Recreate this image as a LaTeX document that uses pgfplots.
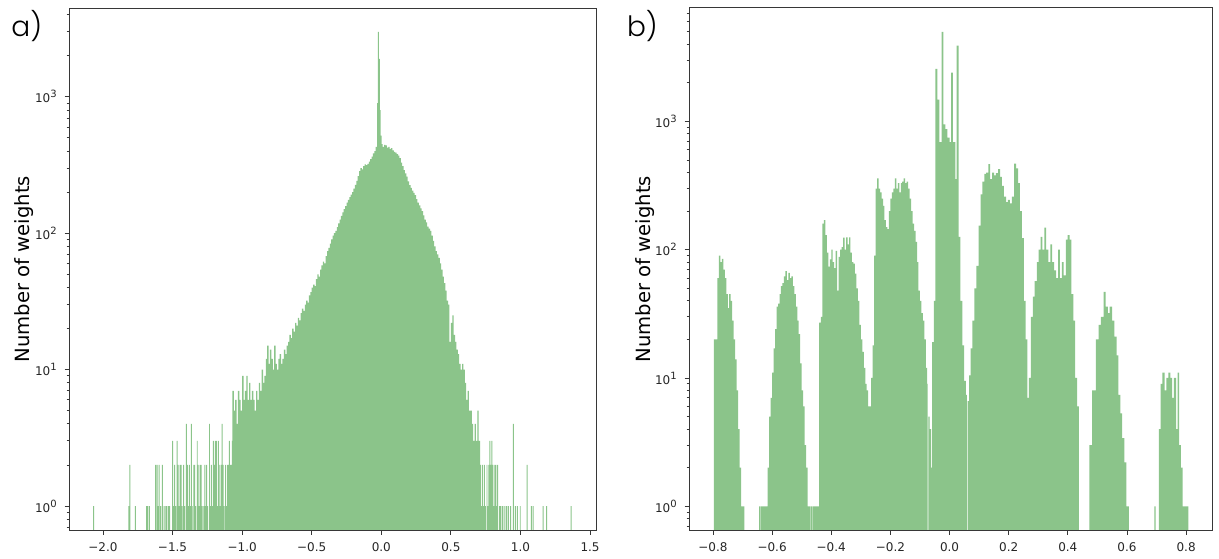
\documentclass[border=0pt]{standalone}
\usepackage{fontspec}
\setmainfont{DejaVu Sans}
\newfontfamily\panelfont{Poppins Light}
\usepackage{pgfplots}
\pgfplotsset{compat=1.18}
\definecolor{histgreen}{RGB}{139,196,138}
\definecolor{framegray}{RGB}{55,55,55}

\pgfplotsset{
  weightaxis/.style={
    scale only axis, height=261pt, anchor=south west,
    axis on top,
    axis line style={framegray, line width=0.5pt},
    tick style={framegray, line width=0.45pt},
    tick align=outside, tick pos=left,
    major tick length=2.3pt, minor tick length=1.3pt,
    ytick={1,10,100,1000},
    yticklabels={10\textsuperscript{0},10\textsuperscript{1},10\textsuperscript{2},10\textsuperscript{3}},
    minor ytick={0.7,0.8,0.9,2,3,4,5,6,7,8,9,20,30,40,50,60,70,80,90,200,300,400,500,600,700,800,900,2000,3000,4000,5000,6000,7000},
    ticklabel style={font=\fontsize{6}{7}\selectfont, text=black!85},
    xticklabel style={yshift=-0.3pt},
    ylabel={Number of weights},
    ylabel style={at={(axis description cs:-0.085,0.5)}, rotate=0, anchor=center,
      font=\fontsize{9.8}{11}\selectfont},
  },
  weightbars/.style={const plot, fill=histgreen, draw=none},
}

\begin{document}
\begin{tikzpicture}
\useasboundingbox (0,0) rectangle (609.5pt,279pt);

% a) weights before training
\begin{axis}[ymode=log, weightaxis, at={(34.65pt,14pt)}, width=263.5pt,
  xmin=-2.242, xmax=1.545, ymin=0.667, ymax=4480,
  xtick={-2,-1.5,-1,-0.5,0,0.5,1,1.5},
  xticklabels={−2.0,−1.5,−1.0,−0.5,0.0,0.5,1.0,1.5}]
\addplot[weightbars] coordinates {
(-2.070,0.01) (-2.070,1) (-2.063,0.01)
(-1.818,1) (-1.811,2) (-1.804,0.01) (-1.770,1) (-1.763,0.01)
(-1.690,1) (-1.676,0.01) (-1.670,1) (-1.663,0.01)
(-1.625,2) (-1.618,0.01) (-1.614,2) (-1.607,1) (-1.600,2) (-1.593,0.01)
(-1.589,1) (-1.582,0.01) (-1.577,2) (-1.570,0.01) (-1.564,1) (-1.557,0.01) (-1.552,1) (-1.545,1) (-1.538,0.01) (-1.532,1) (-1.525,1) (-1.518,0.01)
(-1.503,3) (-1.496,1) (-1.489,2) (-1.482,1) (-1.475,0.01) (-1.470,3) (-1.463,2) (-1.456,1) (-1.449,2) (-1.442,2) (-1.435,1) (-1.428,0.01)
(-1.424,2) (-1.417,1) (-1.410,0.01) (-1.404,4) (-1.397,2) (-1.390,1) (-1.383,2) (-1.376,1) (-1.369,4) (-1.362,1) (-1.355,0.01)
(-1.351,2) (-1.344,2) (-1.337,1) (-1.330,0.01) (-1.326,3) (-1.319,2) (-1.312,1) (-1.305,2) (-1.298,2) (-1.291,1) (-1.284,0.01)
(-1.279,1) (-1.272,2) (-1.265,1) (-1.258,2) (-1.251,1) (-1.244,0.01) (-1.238,4) (-1.231,1) (-1.224,2) (-1.217,1) (-1.210,3)
(-1.203,2) (-1.196,3) (-1.189,3) (-1.182,1) (-1.175,3) (-1.168,2) (-1.161,1) (-1.154,2) (-1.147,4) (-1.140,2) (-1.133,1) (-1.126,0.01)
(-1.123,2) (-1.116,1) (-1.109,2) (-1.102,2) (-1.095,3) (-1.088,2) (-1.081,2) (-1.074,3)
(-1.070,7) (-1.060,5) (-1.050,6) (-1.040,4) (-1.030,7) (-1.020,6) (-1.010,5) (-1.000,9) (-0.990,6) (-0.980,7)
(-0.970,9) (-0.960,6) (-0.950,8) (-0.940,6) (-0.930,7) (-0.920,6) (-0.910,5) (-0.900,7) (-0.890,6) (-0.880,8)
(-0.870,7) (-0.860,10) (-0.850,8) (-0.840,9) (-0.830,12) (-0.820,15) (-0.810,11) (-0.800,14) (-0.790,12) (-0.780,10)
(-0.770,15) (-0.760,11) (-0.750,10) (-0.740,12) (-0.730,13) (-0.720,11) (-0.710,12) (-0.700,14) (-0.690,13) (-0.680,15)
(-0.670,16) (-0.660,18) (-0.650,17) (-0.640,20) (-0.630,19) (-0.620,22) (-0.610,21) (-0.600,24) (-0.590,23) (-0.580,26)
(-0.570,28) (-0.560,27) (-0.550,30) (-0.540,32) (-0.530,31) (-0.520,35) (-0.510,37) (-0.500,40) (-0.490,42) (-0.480,41)
(-0.470,46) (-0.460,50) (-0.450,48) (-0.440,54) (-0.430,58) (-0.420,62) (-0.410,60) (-0.400,68) (-0.390,74) (-0.380,78)
(-0.370,84) (-0.360,90) (-0.350,96) (-0.340,100) (-0.330,104) (-0.320,111) (-0.310,118) (-0.300,126) (-0.290,134) (-0.280,142)
(-0.270,150) (-0.260,158) (-0.250,168) (-0.240,176) (-0.230,184) (-0.220,192) (-0.210,200) (-0.200,212) (-0.190,226) (-0.180,242)
(-0.170,262) (-0.160,285) (-0.150,300) (-0.140,294) (-0.130,310) (-0.120,320) (-0.110,316) (-0.100,322) (-0.090,335) (-0.080,350)
(-0.070,365) (-0.060,385) (-0.050,400) (-0.040,430) (-0.030,900) (-0.025,3000) (-0.018,1900) (-0.011,800) (-0.004,520) (0.003,450)
(0.010,430) (0.020,445) (0.030,440) (0.040,425) (0.050,430) (0.060,415) (0.070,420) (0.080,405) (0.090,395) (0.100,390)
(0.110,380) (0.120,370) (0.130,355) (0.140,330) (0.150,310) (0.160,290) (0.170,275) (0.180,260) (0.190,240) (0.200,225)
(0.210,215) (0.220,205) (0.230,198) (0.240,190) (0.250,178) (0.260,168) (0.270,160) (0.280,152) (0.290,145) (0.300,135)
(0.310,126) (0.320,120) (0.330,112) (0.340,108) (0.350,104) (0.360,96) (0.370,88) (0.380,80) (0.390,74) (0.400,70)
(0.410,66) (0.420,60) (0.430,54) (0.440,48) (0.450,43) (0.460,38) (0.470,32) (0.480,30) (0.490,16) (0.500,22)
(0.510,25) (0.520,18) (0.530,16) (0.540,14) (0.550,13) (0.560,11) (0.570,10) (0.580,11) (0.590,10) (0.600,8)
(0.610,6) (0.620,7) (0.630,5) (0.640,5) (0.650,4) (0.660,3) (0.670,4) (0.680,3) (0.690,5) (0.700,3) (0.710,2)
(0.717,1) (0.724,2) (0.731,1) (0.738,2) (0.745,1) (0.752,0.01) (0.756,2) (0.763,1) (0.770,2) (0.777,3) (0.784,2) (0.791,3)
(0.798,2) (0.805,1) (0.812,2) (0.819,2) (0.826,1) (0.833,2) (0.840,0.01) (0.846,1) (0.853,1) (0.860,0.01) (0.864,1) (0.871,1)
(0.878,0.01) (0.885,1) (0.892,0.01) (0.897,1) (0.904,0.01) (0.910,1) (0.917,0.01) (0.925,1) (0.932,0.01) (0.945,4) (0.952,0.01)
(0.960,1) (0.967,0.01) (0.975,1) (0.982,0.01) (0.995,1) (1.002,0.01) (1.045,2) (1.052,0.01) (1.075,1) (1.082,0.01)
(1.088,1) (1.095,0.01) (1.160,1) (1.167,0.01) (1.185,1) (1.192,0.01) (1.360,1) (1.367,0.01)
};
\end{axis}

% b) weights after quantised training
\begin{axis}[ymode=log, weightaxis, at={(344.65pt,14pt)}, width=261.7pt,
  xmin=-0.880, xmax=0.890, ymin=0.653, ymax=7670,
  xtick={-0.8,-0.6,-0.4,-0.2,0,0.2,0.4,0.6,0.8},
  xticklabels={−0.8,−0.6,−0.4,−0.2,0.0,0.2,0.4,0.6,0.8}]
\addplot[weightbars] coordinates {
(-0.797,0.01) (-0.797,20) (-0.790,20) (-0.785,60) (-0.780,90) (-0.775,80) (-0.770,85) (-0.765,70) (-0.760,60) (-0.755,45)
(-0.750,35) (-0.745,45) (-0.740,40) (-0.735,28) (-0.730,20) (-0.725,14) (-0.720,8) (-0.715,4) (-0.710,2) (-0.705,1) (-0.694,0.01)
(-0.644,1) (-0.639,0.01) (-0.637,1) (-0.615,2) (-0.610,5) (-0.605,7) (-0.600,11) (-0.595,17) (-0.590,24) (-0.585,36)
(-0.580,38) (-0.575,45) (-0.570,52) (-0.565,55) (-0.560,62) (-0.555,68) (-0.550,58) (-0.545,66) (-0.540,60) (-0.535,62)
(-0.530,52) (-0.525,45) (-0.520,36) (-0.515,28) (-0.510,22) (-0.505,13) (-0.500,8) (-0.495,6) (-0.490,3) (-0.485,2)
(-0.480,1) (-0.470,0.01) (-0.468,1) (-0.465,0.01) (-0.463,1)
(-0.441,27) (-0.435,30) (-0.430,160) (-0.425,170) (-0.420,130) (-0.415,95) (-0.410,74) (-0.405,84) (-0.400,100) (-0.395,80)
(-0.390,72) (-0.385,98) (-0.380,48) (-0.375,88) (-0.370,100) (-0.365,105) (-0.360,124) (-0.355,100) (-0.350,125) (-0.345,110)
(-0.340,125) (-0.335,95) (-0.330,80) (-0.325,78) (-0.320,65) (-0.315,50) (-0.310,40) (-0.305,26) (-0.300,20) (-0.295,16)
(-0.290,12) (-0.285,9) (-0.280,8) (-0.275,6) (-0.270,6) (-0.265,10) (-0.260,18) (-0.255,90) (-0.250,300) (-0.245,360)
(-0.240,300) (-0.235,280) (-0.230,250) (-0.225,220) (-0.220,170) (-0.215,150) (-0.210,145) (-0.205,200) (-0.200,250) (-0.195,280)
(-0.190,300) (-0.185,360) (-0.180,300) (-0.175,330) (-0.170,280) (-0.165,330) (-0.160,340) (-0.155,360) (-0.150,330) (-0.145,340)
(-0.140,300) (-0.135,250) (-0.130,200) (-0.125,160) (-0.120,140) (-0.115,115) (-0.110,80) (-0.105,48) (-0.100,40) (-0.095,32)
(-0.090,28) (-0.085,20) (-0.080,12) (-0.076,9) (-0.074,0.01) (-0.072,5) (-0.067,4) (-0.062,2)
(-0.059,19) (-0.053,40) (-0.048,2570) (-0.041,1480) (-0.034,690) (-0.027,5000) (-0.021,950) (-0.014,870) (-0.007,750) (0.000,690)
(0.005,2400) (0.011,690) (0.020,355) (0.024,3900) (0.031,126) (0.037,40) (0.043,18) (0.049,9.5) (0.055,7.4) (0.059,0.01)
(0.061,6.6) (0.066,10.5) (0.071,17) (0.077,28) (0.084,50) (0.091,75) (0.098,154) (0.105,270) (0.111,340) (0.118,390)
(0.124,400) (0.131,465) (0.137,355) (0.144,400) (0.151,380) (0.157,395) (0.164,425) (0.171,370) (0.177,315) (0.184,260)
(0.191,235) (0.197,245) (0.204,230) (0.211,260) (0.218,470) (0.225,430) (0.232,330) (0.238,200) (0.245,123) (0.251,40)
(0.257,20) (0.263,7) (0.268,10) (0.275,30) (0.282,43) (0.288,57) (0.295,80) (0.301,100) (0.308,126) (0.314,100)
(0.321,149) (0.327,100) (0.334,80) (0.341,110) (0.347,80) (0.354,69) (0.360,60) (0.367,100) (0.373,60) (0.380,80)
(0.386,63) (0.393,120) (0.399,130) (0.406,120) (0.412,45) (0.419,28) (0.425,10) (0.431,6) (0.437,0.01)
(0.473,3) (0.482,8) (0.495,20) (0.504,26) (0.512,30) (0.521,47) (0.528,36) (0.535,32) (0.541,36) (0.550,28)
(0.557,21) (0.565,15) (0.571,7.4) (0.578,5.3) (0.584,3.4) (0.591,2.2) (0.598,1) (0.606,0.01)
(0.693,1) (0.697,0.01) (0.708,4) (0.714,9) (0.720,11) (0.727,8) (0.733,10) (0.740,11) (0.747,10) (0.753,7)
(0.759,10) (0.766,4) (0.771,11) (0.776,3) (0.782,2) (0.788,1) (0.808,0.01)
};
\end{axis}

\node[anchor=base west, inner sep=0pt, font=\panelfont\fontsize{14}{16}\selectfont] at (5.5pt,260.5pt) {a)};
\node[anchor=base west, inner sep=0pt, font=\panelfont\fontsize{14}{16}\selectfont] at (313.3pt,260.5pt) {b)};
\end{tikzpicture}
\end{document}
